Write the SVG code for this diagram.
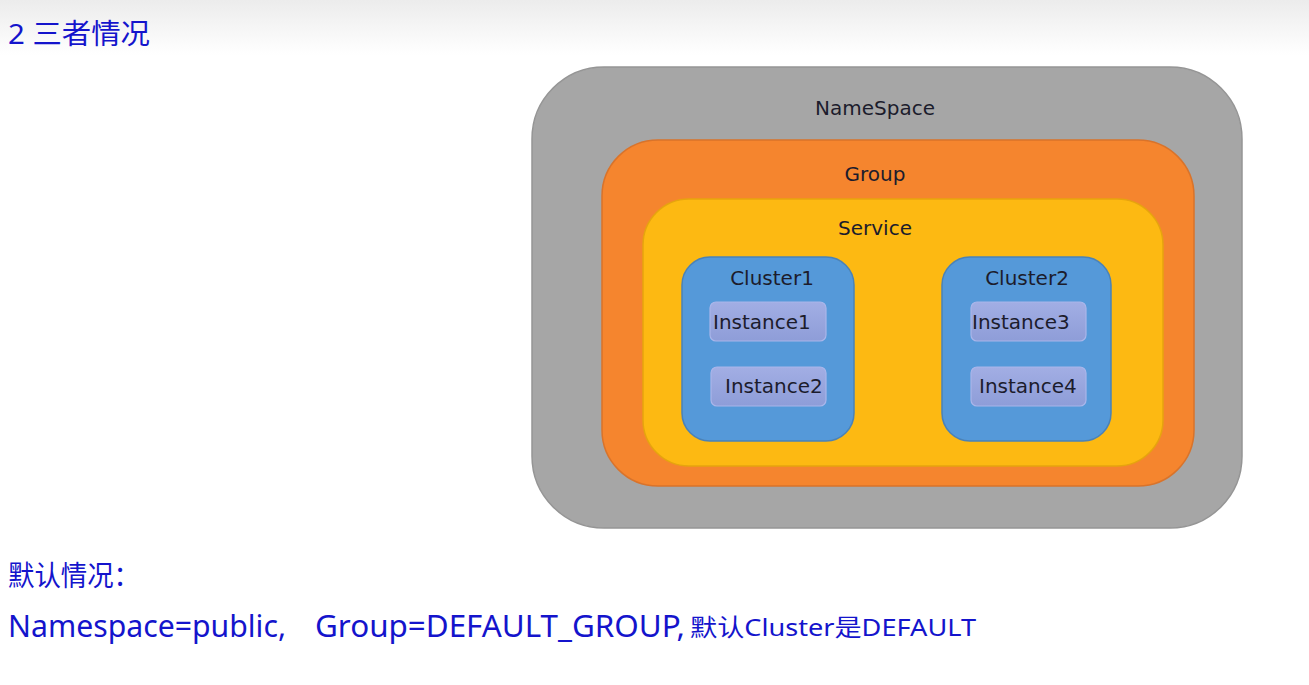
<svg xmlns="http://www.w3.org/2000/svg" width="1309" height="685" viewBox="0 0 1309 685">
<defs>
<linearGradient id="topbg" x1="0" y1="0" x2="0" y2="1">
<stop offset="0" stop-color="#ececec"/>
<stop offset="1" stop-color="#ffffff"/>
</linearGradient>
<linearGradient id="inst" x1="0" y1="0" x2="0" y2="1">
<stop offset="0" stop-color="#a2aee4"/>
<stop offset="1" stop-color="#8e9dd8"/>
</linearGradient>
<style>
.lbl{font-family:"DejaVu Sans","Liberation Sans",sans-serif;font-size:20px;fill:#1c1c2c}
.mid{text-anchor:middle}
.cn{font-family:"Noto Sans","Noto Sans CJK SC",sans-serif;fill:#1414cc}
.ns{fill:#a6a6a6;stroke:#959595;stroke-width:1.5}
.grp{fill:#f5852e;stroke:#d9732a;stroke-width:1.5}
.svc{fill:#fdb912;stroke:#e6a40e;stroke-width:1.5}
.clu{fill:#5599d9;stroke:#4a82b8;stroke-width:1.5}
.ins{fill:url(#inst);stroke:#aab6ea;stroke-width:1.2}
</style>
</defs>
<rect x="0" y="0" width="1309" height="685" fill="#ffffff"/>
<rect x="0" y="0" width="1309" height="55" fill="url(#topbg)"/>
<text class="cn" x="8" y="44" font-size="28" textLength="142" lengthAdjust="spacingAndGlyphs">2 三者情况</text>

<g id="namespace">
<rect class="ns" x="532" y="67" width="710" height="461" rx="72" ry="72"/>
<text class="lbl mid" x="875" y="115">NameSpace</text>
</g>
<g id="group">
<rect class="grp" x="602" y="140" width="592" height="346" rx="56" ry="56"/>
<text class="lbl mid" x="875" y="181">Group</text>
</g>
<g id="service">
<rect class="svc" x="643" y="199" width="520" height="267" rx="46" ry="46"/>
<text class="lbl mid" x="875" y="235">Service</text>
</g>
<g id="cluster1">
<rect class="clu" x="682" y="257" width="172" height="184" rx="28" ry="28"/>
<text class="lbl mid" x="772" y="285">Cluster1</text>
</g>
<g id="cluster2">
<rect class="clu" x="942" y="257" width="169" height="184" rx="28" ry="28"/>
<text class="lbl mid" x="1027" y="285">Cluster2</text>
</g>
<g id="instance1">
<rect class="ins" x="710" y="302" width="116" height="39" rx="6" ry="6"/>
<text class="lbl" x="713" y="329">Instance1</text>
</g>
<g id="instance2">
<rect class="ins" x="711" y="367" width="115" height="39" rx="6" ry="6"/>
<text class="lbl" x="725" y="393">Instance2</text>
</g>
<g id="instance3">
<rect class="ins" x="971" y="302" width="115" height="39" rx="6" ry="6"/>
<text class="lbl" x="972" y="329">Instance3</text>
</g>
<g id="instance4">
<rect class="ins" x="971" y="367" width="115" height="39" rx="6" ry="6"/>
<text class="lbl" x="979" y="393">Instance4</text>
</g>
<g id="connectors"></g>

<text class="cn" x="8" y="586" font-size="28" textLength="132" lengthAdjust="spacingAndGlyphs">默认情况：</text>
<text class="cn" x="8" y="637" font-size="30" textLength="278" lengthAdjust="spacingAndGlyphs">Namespace=public,</text>
<text class="cn" x="315" y="637" font-size="30" textLength="370" lengthAdjust="spacingAndGlyphs">Group=DEFAULT_GROUP,</text>
<text class="cn" x="690" y="636" font-size="24" textLength="286" lengthAdjust="spacingAndGlyphs">默认Cluster是DEFAULT</text>
</svg>
